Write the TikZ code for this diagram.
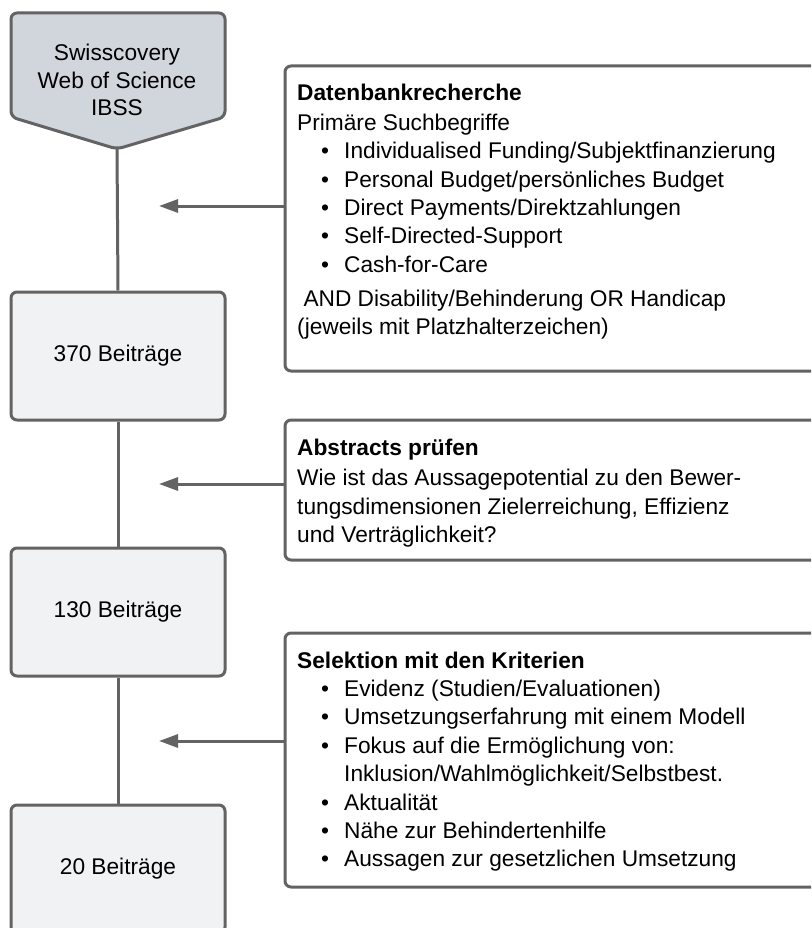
\documentclass[tikz,border=0pt]{standalone}
\usepackage{fontspec}
\setmainfont{Liberation Sans}
\usetikzlibrary{arrows.meta}
\definecolor{strokegray}{HTML}{636363}
\definecolor{srcfill}{HTML}{D1D5DC}
\definecolor{boxfill}{HTML}{F1F2F4}
\newcommand{\bitem}[1]{\makebox[47pt][l]{\hspace*{24pt}\textbullet}#1}
\tikzset{
  countbox/.style={draw=strokegray, line width=3pt, fill=boxfill, rounded corners=6pt,
    minimum width=214pt, minimum height=128pt, inner sep=0pt, align=center,
    font=\fontsize{22.7pt}{27.5pt}\selectfont},
  infobox/.style={draw=strokegray, line width=3pt, fill=white, rounded corners=6pt,
    minimum width=545pt, inner sep=0pt},
  infotext/.style={anchor=north west, inner sep=0pt, align=left,
    font=\fontsize{22.7pt}{28.4pt}\selectfont},
  conn/.style={draw=strokegray, line width=3pt},
  arr/.style={draw=strokegray, line width=3pt, -{Triangle[length=19pt,width=13pt]}},
}
\begin{document}
\begin{tikzpicture}[x=1pt,y=-1pt]
\useasboundingbox (0,0) rectangle (811,928);
\clip (0,0) rectangle (811,928);
% source shape
\draw[strokegray, line width=3pt, fill=srcfill, rounded corners=6pt]
  (117,149) -- (11,117) -- (11,13) -- (225,13) -- (225,117) -- cycle;
\coordinate (srctip) at (117,149);
\node[align=center, inner sep=0pt, font=\fontsize{22.7pt}{27.5pt}\selectfont] (src) at (117,80)
  {Swisscovery\\Web of Science\\IBSS};
% count boxes
\node[countbox] (b370) at (118,356) {370 Beiträge};
\node[countbox] (b130) at (118,612) {130 Beiträge};
\node[countbox] (b20) at (118,869) {20 Beiträge};
% connectors
\draw[conn] (srctip) -- (b370.north);
\draw[conn] (b370.south) -- (b130.north);
\draw[conn] (b130.south) -- (b20.north);
% info boxes
\node[infobox, minimum height=305pt] (db) at (557.5,218.5) {};
\node[infobox, minimum height=140pt] (ab) at (557.5,490) {};
\node[infobox, minimum height=254pt] (sel) at (557.5,760) {};
\node[infotext] (dbt) at (297,83.6) {\textbf{Datenbankrecherche}\\[1.6pt]
  Primäre Suchbegriffe\\
  \bitem{Individualised Funding/Subjektfinanzierung}\\
  \bitem{Personal Budget/persönliches Budget}\\
  \bitem{Direct Payments/Direktzahlungen}\\
  \bitem{Self-Directed-Support}\\
  \bitem{Cash-for-Care}\\[5.6pt]
  \hspace*{6.3pt}AND Disability/Behinderung OR Handicap\\
  (jeweils mit Platzhalterzeichen)};
\node[infotext] (abt) at (297,438.5) {\textbf{Abstracts prüfen}\\[2.3pt]
  Wie ist das Aussagepotential zu den Bewer-\\
  tungsdimensionen Zielerreichung, Effizienz\\
  und Verträglichkeit?};
\node[infotext] (selt) at (297,651.5) {\textbf{Selektion mit den Kriterien}\\
  \bitem{Evidenz (Studien/Evaluationen)}\\
  \bitem{Umsetzungserfahrung mit einem Modell}\\
  \bitem{Fokus auf die Ermöglichung von:}\\
  \hspace*{47pt}Inklusion/Wahlmöglichkeit/Selbstbest.\\
  \bitem{Aktualität}\\
  \bitem{Nähe zur Behindertenhilfe}\\
  \bitem{Aussagen zur gesetzlichen Umsetzung}};
% arrows
\coordinate (a1) at (159,206);
\coordinate (a2) at (159,484);
\coordinate (a3) at (159,741);
\draw[arr] (db.west |- a1) -- (a1);
\draw[arr] (ab.west |- a2) -- (a2);
\draw[arr] (sel.west |- a3) -- (a3);
\end{tikzpicture}
\end{document}
